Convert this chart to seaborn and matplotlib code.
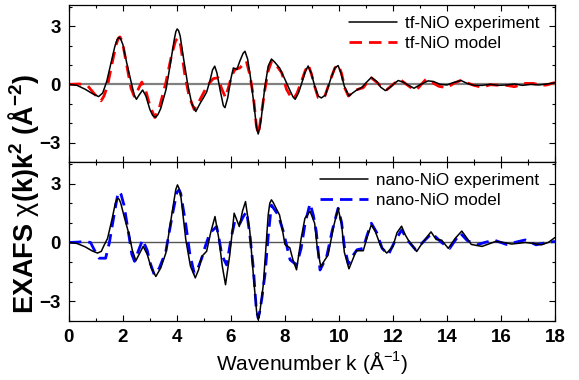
import numpy as np
import pandas as pd
import matplotlib
matplotlib.use("Agg")
import matplotlib.pyplot as plt
import seaborn as sns
from matplotlib.ticker import MultipleLocator

# ---- data ----
# tf-NiO experiment
k_tf_exp = [0.0, 0.3, 0.6, 0.9, 1.1, 1.25, 1.4, 1.55, 1.7, 1.78, 1.86, 1.93,
            2.0, 2.15, 2.3, 2.42, 2.5, 2.6, 2.73, 2.85, 3.0, 3.1, 3.21, 3.3,
            3.4, 3.6, 3.75, 3.9, 3.96, 4.01, 4.06, 4.12, 4.25, 4.4, 4.55, 4.7,
            4.85, 5.0, 5.1, 5.22, 5.32, 5.4, 5.48, 5.6, 5.72, 5.78,
            5.88, 6.0, 6.09, 6.22, 6.33, 6.45, 6.52, 6.62, 6.72, 6.85, 6.95,
            7.01, 7.06, 7.12, 7.25, 7.38, 7.5, 7.62, 7.8, 8.0, 8.18, 8.3,
            8.38, 8.5, 8.62, 8.75, 8.86, 8.98, 9.1, 9.23, 9.35, 9.5,
            9.7, 9.85, 9.97, 10.07, 10.2, 10.37, 10.5, 10.65, 10.85, 11.05,
            11.2, 11.4, 11.55, 11.72, 11.9, 12.05, 12.2, 12.4, 12.58, 12.78,
            13.0, 13.3, 13.5, 13.75, 14.0, 14.25, 14.52, 14.75, 15.0, 15.3,
            15.6, 15.9, 16.2, 16.5, 16.8, 17.1, 17.4, 17.7, 18.0]
chi_tf_exp = [0.0, -0.05, -0.25, -0.5, -0.63, -0.45, 0.15, 1.05, 1.95, 2.3, 2.43, 2.3,
              2.05, 1.05, 0.15, -0.55, -0.77, -0.55, -0.29, -0.6, -1.3, -1.6, -1.71, -1.55,
              -1.25, -0.25, 1.0, 2.3, 2.72, 2.86, 2.78, 2.5, 1.3, 0.0, -1.0, -1.4,
              -1.0, -0.65, -0.4, 0.17, 0.75, 0.94, 0.6, -0.3, -1.1, -1.2,
              -0.7, 0.3, 0.85, 0.77, 1.2, 1.6, 1.71, 1.3, 0.4, -1.0, -2.25,
              -2.56, -2.3, -1.8, -0.2, 0.94, 1.31, 1.15, 0.85, 0.26, -0.3, -0.65,
              -0.77, -0.45, 0.05, 0.65, 0.95, 0.55, -0.08, -0.6, -0.7, -0.55,
              0.3, 0.85, 0.97, 0.6, -0.1, -0.6, -0.45, -0.3, -0.15, 0.15,
              0.36, 0.15, -0.15, -0.32, -0.15, 0.05, 0.2, 0.1, -0.05, -0.2,
              -0.02, 0.18, 0.15, 0.0, -0.03, 0.1, 0.2, 0.05, -0.05, -0.05,
              0.0, -0.05, -0.03, 0.02, -0.05, 0.0, -0.03, 0.02, 0.08]

# tf-NiO model
k_tf_mod = [0.0, 0.4, 0.7, 0.95, 1.19, 1.3, 1.43, 1.6, 1.75, 1.83, 1.89, 1.95,
            2.02, 2.17, 2.3, 2.42, 2.55, 2.7, 2.85, 3.0, 3.18, 3.35,
            3.59, 3.8, 3.95, 4.04, 4.1, 4.15, 4.3, 4.45, 4.64, 4.85, 5.0, 5.16,
            5.35, 5.53, 5.65, 5.8, 5.92, 6.03, 6.15, 6.33, 6.57, 6.7,
            6.83, 6.94, 7.01, 7.06, 7.12, 7.26, 7.38, 7.51, 7.7, 7.88, 8.06, 8.2,
            8.31, 8.45, 8.6, 8.75, 8.86, 8.98, 9.1, 9.23, 9.35, 9.48,
            9.7, 9.85, 9.98, 10.1, 10.22, 10.35, 10.6, 10.9, 11.05, 11.2,
            11.45, 11.6, 11.77, 12.0, 12.26, 12.5, 12.7, 12.88, 13.05, 13.22,
            13.45, 13.7, 14.0, 14.25, 14.5, 14.8, 15.0, 15.3, 15.6, 16.0,
            16.2, 16.5, 16.9, 17.2, 17.5, 17.7, 18.0]
chi_tf_mod = [0.0, 0.02, -0.08, -0.5, -0.85, -0.6, -0.08, 1.1, 2.05, 2.38, 2.45, 2.3,
              1.9, 0.77, -0.2, -0.62, -0.3, 0.12, -0.35, -1.1, -1.71, -1.2,
              0.08, 1.5, 2.25, 2.39, 2.25, 1.9, 0.43, -0.6, -1.3, -0.8, -0.4, 0.0,
              0.3, 0.34, -0.2, -0.68, -0.1, 0.45, 0.77, 0.85, 1.2, 0.5,
              -0.6, -2.1, -2.56, -2.2, -1.6, -0.26, 0.7, 1.2, 0.95, 0.6, -0.26, -0.6,
              -0.77, -0.45, 0.1, 0.7, 1.02, 0.55, -0.1, -0.68, -0.72, -0.6,
              0.3, 0.85, 1.0, 0.55, -0.2, -0.6, -0.3, -0.17, 0.1, 0.34,
              0.05, -0.18, -0.28, 0.0, 0.26, 0.0, -0.2, -0.28, 0.0, 0.26,
              0.1, -0.1, -0.17, 0.05, 0.2, 0.05, -0.05, -0.15, -0.02, -0.05,
              -0.05, -0.12, 0.05, 0.05, -0.05, -0.03, 0.1]

# nano-NiO experiment
k_nano_exp = [0.0, 0.3, 0.6, 0.85, 1.06, 1.2, 1.3, 1.43, 1.6, 1.72, 1.8, 1.86,
              1.92, 2.05, 2.23, 2.35, 2.48, 2.6, 2.75, 2.9, 3.05, 3.22,
              3.4, 3.59, 3.75, 3.9, 3.96, 4.02, 4.08, 4.15, 4.33, 4.5, 4.68, 4.8,
              4.92, 5.1, 5.25, 5.41, 5.56, 5.68, 5.8, 5.96, 6.12, 6.31,
              6.43, 6.54, 6.7, 6.86, 6.95, 7.01, 7.07, 7.2, 7.38, 7.44, 7.5, 7.56,
              7.65, 7.8, 7.9, 8.0, 8.18, 8.3, 8.43, 8.6, 8.74, 8.93, 9.1, 9.2,
              9.33, 9.45, 9.6, 9.8, 9.97, 10.1, 10.2, 10.37, 10.5, 10.64,
              10.9, 11.05, 11.2, 11.35, 11.55, 11.77, 12.0, 12.15, 12.32, 12.45,
              12.6, 12.88, 13.1, 13.41, 13.6, 13.8, 14.05, 14.3, 14.55, 14.75,
              14.9, 15.3, 15.8, 16.1, 16.4, 16.9, 17.2, 17.5, 17.75, 18.0]
chi_nano_exp = [0.0, -0.05, -0.22, -0.42, -0.54, -0.45, -0.15, 0.2, 1.2, 2.0, 2.25, 2.2,
                2.0, 1.3, 0.39, -0.4, -0.93, -0.6, -0.2, -0.6, -1.3, -1.73,
                -1.3, -0.54, 0.9, 2.2, 2.7, 2.93, 2.75, 2.3, 0.13, -1.2, -1.8, -1.4,
                -0.71, -0.45, 0.5, 1.32, 0.13, -1.2, -2.15, -0.6, 1.49, 0.81,
                1.6, 2.08, 0.56, -2.15, -3.5, -3.92, -3.55, -2.15, 1.4, 2.0, 2.17, 2.05,
                1.8, 1.4, 0.7, -0.1, -0.27, -0.9, -1.39, 0.2, 1.23, 1.59, 0.98, -0.3,
                -1.24, -0.95, -0.63, 0.8, 1.74, 0.9, -0.5, -1.34, -0.9, -0.42,
                -0.42, 0.3, 0.9, 0.55, -0.2, -0.54, -0.2, 0.5, 0.83, 0.4,
                0.05, -0.46, 0.0, 0.54, 0.15, 0.12, -0.3, 0.2, 0.58, 0.2,
                -0.1, -0.2, 0.05, 0.0, -0.08, 0.0, -0.05, -0.12, 0.0, 0.25]

# nano-NiO model
k_nano_mod = [0.0, 0.35, 0.6, 0.8, 0.95, 1.12, 1.36, 1.5, 1.61, 1.75, 1.81,
              1.86, 1.93, 2.04, 2.23, 2.33, 2.43, 2.58, 2.73, 2.9, 3.0, 3.16,
              3.35, 3.59, 3.83, 4.0, 4.08, 4.14, 4.2, 4.33, 4.48, 4.64, 4.78, 4.92,
              5.05, 5.22, 5.47, 5.56, 5.66, 5.84, 6.02, 6.14, 6.31, 6.45,
              6.58, 6.7, 6.83, 6.94, 7.01, 7.07, 7.15, 7.26, 7.38, 7.5, 7.75, 7.94,
              8.19, 8.43, 8.6, 8.75, 8.93, 9.05, 9.16, 9.3, 9.54, 9.75,
              9.97, 10.1, 10.2, 10.35, 10.5, 10.67, 10.9, 11.05, 11.2, 11.4,
              11.6, 11.83, 12.05, 12.32, 12.55, 12.84, 13.1, 13.44, 13.8, 14.1,
              14.3, 14.5, 14.75, 15.1, 15.4, 15.75, 16.2, 16.5, 16.9, 17.3,
              17.7, 18.0]
chi_nano_mod = [0.0, 0.02, 0.05, 0.0, -0.4, -0.8, -0.8, 0.0, 0.9, 2.0, 2.45,
                2.59, 2.45, 1.9, 0.3, -0.6, -0.96, -0.4, 0.14, -0.4, -1.0, -1.64,
                -1.3, -0.45, 1.4, 2.55, 2.68, 2.5, 2.0, 0.9, -0.6, -1.56, -1.3, -0.8,
                -0.2, 0.48, 0.81, 0.2, -0.63, -1.14, 0.3, 1.07, 0.9, 1.3,
                1.57, 0.4, -1.3, -3.4, -3.85, -3.5, -2.8, -1.64, 0.3, 1.9, 1.4, 0.56,
                -0.88, -1.14, -0.3, 1.0, 1.98, 1.4, 0.56, -1.4, -0.75, 0.6,
                1.74, 1.0, -0.2, -1.1, -0.7, -0.37, -0.3, 0.4, 0.98, 0.5,
                -0.3, -0.62, 0.0, 0.64, 0.1, -0.37, 0.0, 0.47, 0.0, -0.3,
                0.1, 0.47, 0.1, -0.12, 0.0, 0.12, -0.1, 0.0, 0.13, -0.12,
                0.0, 0.05]

sns.set_style("ticks")
plt.rcParams["font.family"] = ["Liberation Sans", "DejaVu Sans"]
plt.rcParams["mathtext.fontset"] = "custom"
plt.rcParams["mathtext.rm"] = "Liberation Sans"
plt.rcParams["mathtext.bf"] = "Liberation Sans:bold"
plt.rcParams["text.color"] = "black"
plt.rcParams["axes.labelcolor"] = "black"
plt.rcParams["xtick.color"] = "black"
plt.rcParams["ytick.color"] = "black"

fig = plt.figure(figsize=(5.79, 3.80), dpi=100)
ax1 = fig.add_axes([0.119, 0.574, 0.8395, 0.413])
ax2 = fig.add_axes([0.119, 0.155, 0.8395, 0.419])

panels = [
    (ax1, k_tf_exp, chi_tf_exp, k_tf_mod, chi_tf_mod, "tf-NiO", "#ff0000", "#808080", 1.6),
    (ax2, k_nano_exp, chi_nano_exp, k_nano_mod, chi_nano_mod, "nano-NiO", "#0000ff", "#555555", 1.0),
]

for ax, ke, ce, km, cm, name, col, zcol, zlw in panels:
    ax.axhline(0, color=zcol, lw=zlw, zorder=1)
    sns.lineplot(x=km, y=cm, ax=ax, color=col, lw=2.0,
                 linestyle=(0, (4.5, 2.5)), label=f"{name} model", zorder=2)
    sns.lineplot(x=ke, y=ce, ax=ax, color="black", lw=1.1,
                 label=f"{name} experiment", zorder=3)
    handles, labels = ax.get_legend_handles_labels()
    ax.legend(handles[::-1], labels[::-1], frameon=False, loc="upper right",
              fontsize=12.3, handlelength=2.8, handletextpad=0.45,
              labelspacing=0.3, borderaxespad=0.1, bbox_to_anchor=(0.985, 0.985))
    ax.set_xlim(0, 18)
    ax.set_ylim(-4.0, 4.1)
    ax.xaxis.set_major_locator(MultipleLocator(2))
    ax.xaxis.set_minor_locator(MultipleLocator(1))
    ax.yaxis.set_major_locator(MultipleLocator(3))
    ax.yaxis.set_minor_locator(MultipleLocator(1))
    ax.tick_params(which="both", direction="in", top=True, right=True,
                   width=0.8, colors="black")
    ax.tick_params(which="major", length=4.5, labelsize=13.5, pad=6)
    ax.tick_params(which="minor", length=2.5)
    for lab in ax.get_xticklabels() + ax.get_yticklabels():
        lab.set_fontweight("bold")
    for sp in ax.spines.values():
        sp.set_linewidth(0.9)
        sp.set_color("black")
    ax.set_ylabel("")

ax1.tick_params(labelbottom=False)
ax1.set_xlabel("")
ax2.set_xlabel("Wavenumber k (Å$^{-1}$)", fontsize=15, labelpad=2)

fig.text(0.04, 0.49,
         r"EXAFS $\mathrm{\chi}$(k)k$^{\mathbf{2}}$ (Å$^{\mathbf{-2}}$)",
         rotation=90, ha="center", va="center", fontsize=19.5, fontweight="bold")

fig.savefig("out.png", dpi=100)
